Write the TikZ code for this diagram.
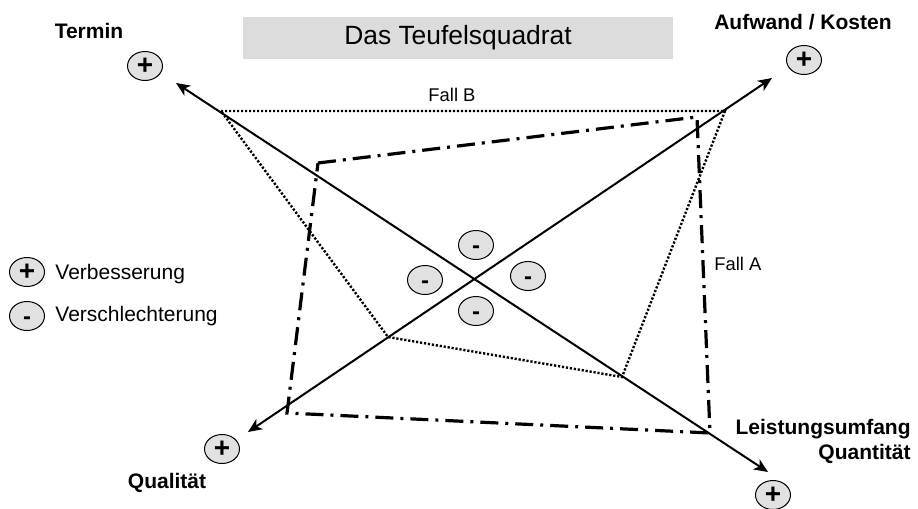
\documentclass[tikz,border=0pt]{standalone}
\usepackage{fontspec}
\setmainfont{Liberation Sans}
\usetikzlibrary{arrows.meta,shapes.geometric}
\definecolor{boxgray}{RGB}{220,220,220}
\definecolor{signgray}{RGB}{225,225,225}
\tikzset{
  sign/.style={ellipse,draw,line width=0.5pt,fill=signgray,minimum width=17.5pt,minimum height=14.5pt,inner sep=0pt,font=\fontsize{14}{14}\selectfont\bfseries},
  minus/.style={sign,font=\fontsize{12}{12}\selectfont\bfseries,text height=1.6ex,text depth=0pt},
  axis/.style={line width=1pt,{Stealth[length=7pt,width=6pt,inset=2pt]}-{Stealth[length=7pt,width=6pt,inset=2pt]}},
  fallA/.style={line width=1.6pt,dash pattern=on 9pt off 3.5pt on 1.5pt off 3.5pt},
  fallB/.style={line width=1.2pt,dash pattern=on 1.1pt off 0.9pt},
  lbl/.style={inner sep=0pt,font=\fontsize{10.5}{12.5}\selectfont\bfseries},
  txt/.style={inner sep=0pt,font=\fontsize{10.5}{12.5}\selectfont},
  falltxt/.style={inner sep=0pt,font=\fontsize{9.2}{11}\selectfont},
}
\begin{document}
\begin{tikzpicture}[x=0.5pt,y=-0.5pt]
\useasboundingbox (0,0) rectangle (918,509);

% title
\node (title) [fill=boxgray,minimum width=215pt,minimum height=21pt,font=\fontsize{13.2}{14}\selectfont] at (458,38) {Das Teufelsquadrat};

% axis ends
\coordinate (tT) at (176,83);
\coordinate (tL) at (768,472);
\coordinate (tA) at (772,78);
\coordinate (tQ) at (248,432);

% Fall B
\coordinate (b1) at (221,111);
\coordinate (b2) at (725,111);
\coordinate (b3) at (622,377);
\coordinate (b4) at (388,337);
\draw[fallB] (b1) -- (b2) -- (b3) -- (b4) -- cycle;
\node[falltxt] (fallb) at (452,95) {Fall B};

% Fall A
\coordinate (a1) at (318,163);
\coordinate (a2) at (697,117);
\coordinate (a3) at (710,433);
\coordinate (a4) at (287,413);
\draw[fallA] (a1) -- (a2) -- (a3) -- (a4) -- cycle;
\node[falltxt,anchor=west] (falla) at (714,264) {Fall A};

% axes
\draw[axis] (tL) -- (tT);
\draw[axis] (tQ) -- (tA);

% plus signs and labels
\node[sign] (pT) at (145,66) {+};
\node[sign] (pA) at (804,60) {+};
\node[sign] (pQ) at (222,449) {+};
\node[sign] (pL) at (773,495) {+};
\node[lbl] (termin) at (89,31) {Termin};
\node[lbl] (aufwand) at (803,22) {Aufwand / Kosten};
\node[lbl] (quali) at (167,483) {Qualität};
\node[lbl,align=right,anchor=north east] (leist) at (911,419) {Leistungsumfang\\Quantität};

% minus signs
\node[minus] (mT) at (476,245) {-};
\node[minus] (mQ) at (425,280) {-};
\node[minus] (mA) at (528,276) {-};
\node[minus] (mL) at (476,311) {-};

% legend
\node[sign] (legp) at (27,272) {+};
\node[minus] (legm) at (27,316) {-};
\node[txt,anchor=west] (legpt) at (55,274) {Verbesserung};
\node[txt,anchor=west] (legmt) at (55,316) {Verschlechterung};
\end{tikzpicture}
\end{document}
